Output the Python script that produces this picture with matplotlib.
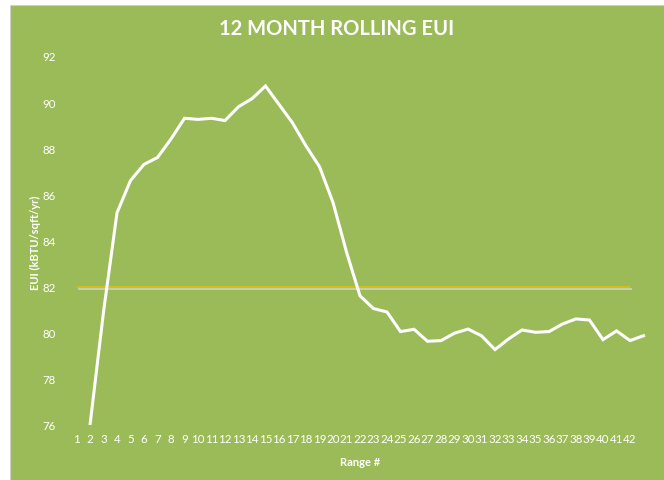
import matplotlib.pyplot as plt
import matplotlib.patheffects as pe
from matplotlib.patches import Rectangle

plt.rcParams["font.family"] = ["Lato", "DejaVu Sans"]

GREEN = "#9BBB59"

ranges = list(range(1, 44))
tick_labels = [str(i) for i in range(1, 43)] + [""]
eui = [None, 76.0, 80.9, 85.2, 86.6, 87.3, 87.6, 88.4, 89.3, 89.25,
       89.3, 89.2, 89.8, 90.15, 90.7, 89.9, 89.1, 88.1, 87.2, 85.65,
       83.5, 81.6, 81.05, 80.9, 80.05, 80.15, 79.63, 79.66, 79.98, 80.16,
       79.87, 79.27, 79.73, 80.12, 80.02, 80.05, 80.38, 80.6, 80.55, 79.7,
       80.08, 79.66, 79.87]
target_x = list(range(1, 43))
target = [82.0] * 42

fig = plt.figure(figsize=(6.64, 4.81), dpi=100)
fig.patch.set_facecolor("white")
fig.patches.append(Rectangle((10/664, 0), 1, 475/481, transform=fig.transFigure,
                             facecolor=GREEN, edgecolor="#d0d0d0", lw=0.6, zorder=-10))

ax = fig.add_axes([69.75/664, 55/481, 580.5/664, 369/481])
ax.set_facecolor("none")
ax.set_zorder(5)

xs = [x for x, v in zip(ranges, eui) if v is not None]
ys = [v for v in eui if v is not None]
ax.plot(target_x, target, color="#E8C000", lw=1.1, solid_capstyle="butt",
        path_effects=[pe.SimpleLineShadow(offset=(1.4, -1.4), shadow_color="#d8d8d8", alpha=0.9),
                      pe.Normal()])
ax.plot(xs, ys, color="white", lw=2.2, solid_joinstyle="miter")

ax.set_xlim(0.5, 43.5)
ax.set_ylim(76, 92)
ax.set_yticks(range(76, 93, 2))
ax.set_xticks(ranges)
ax.set_xticklabels(tick_labels)
ax.tick_params(length=0, colors="white", labelsize=8.3)
ax.tick_params(axis="y", pad=10)
ax.tick_params(axis="x", pad=6)
for s in ax.spines.values():
    s.set_visible(False)

fig.text(337/664, 1 - 29/481, "12 MONTH ROLLING EUI", color="white", fontsize=14.5,
         fontweight="bold", ha="center", va="center")
fig.text(360/664, 1 - 462/481, "Range #", color="white", fontsize=8,
         fontweight="bold", ha="center", va="center")
fig.text(35/664, 1 - 243/481, "EUI (kBTU/sqft/yr)", color="white", fontsize=8,
         fontweight="bold", ha="center", va="center", rotation=90)

fig.savefig("out.png", dpi=100, facecolor=fig.get_facecolor())
